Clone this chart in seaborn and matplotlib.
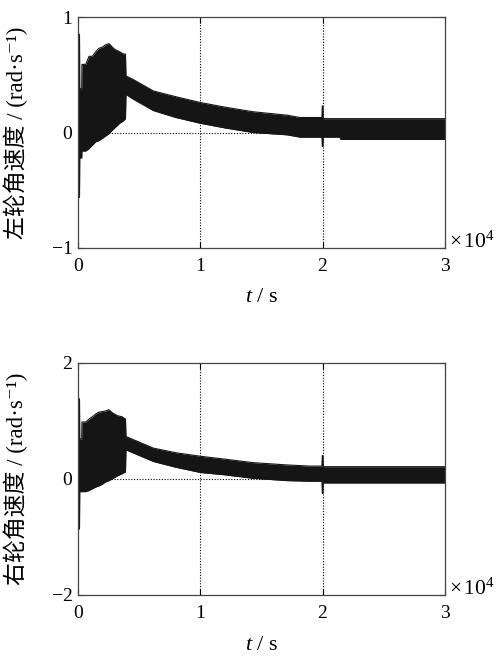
import matplotlib
matplotlib.use("Agg")
import matplotlib.pyplot as plt
import seaborn as sns
import pandas as pd

# ---- data (time in units of 1e4 s) ----
t_left = [0.000, 0.012, 0.014, 0.030, 0.032, 0.063, 0.090, 0.117, 0.145, 0.172,
          0.200, 0.226, 0.253, 0.280, 0.300, 0.340, 0.370, 0.388, 0.392, 0.450,
          0.616, 0.800, 1.000, 1.200, 1.430, 1.710, 1.815, 1.995, 1.998, 2.002,
          2.005, 2.140, 2.150, 3.000]
left_upper = [0.85, 0.85, 0.38, 0.38, 0.59, 0.59, 0.66, 0.66, 0.70, 0.73,
              0.74, 0.76, 0.77, 0.74, 0.72, 0.70, 0.68, 0.68, 0.49, 0.46,
              0.36, 0.31, 0.26, 0.22, 0.18, 0.15, 0.13, 0.13, 0.23, 0.23,
              0.12, 0.12, 0.12, 0.12]
left_lower = [-0.56, -0.56, -0.22, -0.22, -0.16, -0.16, -0.14, -0.11, -0.08, -0.07,
              -0.05, -0.03, -0.01, 0.02, 0.04, 0.08, 0.10, 0.12, 0.33, 0.29,
              0.19, 0.13, 0.08, 0.04, 0.00, -0.02, -0.04, -0.04, -0.12, -0.12,
              -0.04, -0.04, -0.06, -0.06]

t_right = [0.000, 0.012, 0.014, 0.030, 0.032, 0.063, 0.090, 0.117, 0.145, 0.172,
           0.200, 0.226, 0.253, 0.280, 0.320, 0.360, 0.388, 0.392, 0.616, 0.800,
           1.000, 1.200, 1.430, 1.710, 1.900, 1.995, 1.998, 2.002, 2.005, 3.000]
right_upper = [1.38, 1.38, 0.69, 0.69, 0.98, 0.98, 1.03, 1.07, 1.12, 1.15,
               1.16, 1.17, 1.19, 1.14, 1.09, 1.07, 1.03, 0.73, 0.53, 0.45,
               0.39, 0.34, 0.28, 0.24, 0.22, 0.22, 0.40, 0.40, 0.21, 0.21]
right_lower = [-0.86, -0.86, -0.22, -0.22, -0.22, -0.22, -0.20, -0.17, -0.14, -0.12,
               -0.09, -0.05, -0.03, 0.00, 0.05, 0.09, 0.12, 0.50, 0.30, 0.20,
               0.11, 0.07, 0.01, -0.03, -0.04, -0.04, -0.25, -0.25, -0.07, -0.07]

x_ticks = [0, 1, 2, 3]
top_yticks = [-1, 0, 1]
bot_yticks = [-2, 0, 2]
top_ylabel = "左轮角速度 / (rad·s⁻¹)"
bot_ylabel = "右轮角速度 / (rad·s⁻¹)"
x_label = "$t$ / s"
x_mult = r"$\times\,10^4$"

sns.set_theme(style="white")
plt.rcParams["font.family"] = ["Liberation Serif", "Noto Sans CJK SC", "DejaVu Serif"]
plt.rcParams["mathtext.fontset"] = "custom"
plt.rcParams["mathtext.rm"] = "Liberation Serif"
plt.rcParams["mathtext.it"] = "Liberation Serif:italic"
plt.rcParams["axes.unicode_minus"] = True

fig = plt.figure(figsize=(4.97, 6.56), dpi=100)
ax1 = fig.add_axes([0.157, 0.622, 0.738, 0.352])
ax2 = fig.add_axes([0.157, 0.093, 0.738, 0.354])

def draw(ax, t, up, lo, yticks, ylabel):
    df = pd.DataFrame({"t": t, "up": up, "lo": lo})
    ax.fill_between(df["t"], df["lo"], df["up"], color="#151515", lw=0)
    sns.lineplot(data=df, x="t", y="up", ax=ax, color="#151515", lw=0.8)
    sns.lineplot(data=df, x="t", y="lo", ax=ax, color="#151515", lw=0.8)
    ax.set_xlim(0, 3)
    ax.set_ylim(yticks[0], yticks[-1])
    ax.set_xticks(x_ticks)
    ax.set_yticks(yticks)
    ax.set_xticklabels([str(v) for v in x_ticks])
    ax.set_yticklabels([str(v).replace("-", "\u2212") for v in yticks])
    for v in x_ticks[1:-1]:
        ax.axvline(v, color="black", lw=0.8, ls=(0, (1, 1.5)), zorder=0)
    for v in yticks[1:-1]:
        ax.axhline(v, color="black", lw=0.8, ls=(0, (1, 1.5)), zorder=0)
    ax.tick_params(direction="in", length=4, width=0.8, top=True, right=True,
                   bottom=True, left=True, labelsize=14, colors="black")
    ax.tick_params(axis="x", pad=7)
    ax.tick_params(axis="y", pad=4)
    for s in ax.spines.values():
        s.set_color("#444444")
        s.set_linewidth(0.9)
    ax.set_ylabel(ylabel, fontsize=16.5, color="black")
    ax.yaxis.set_label_coords(-0.135, 0.5)
    ax.set_xlabel(x_label, fontsize=16, color="black", va="top")
    ax.xaxis.set_label_coords(0.5, -0.175)
    ax.text(1.012, 0.0, x_mult, transform=ax.transAxes, fontsize=15.5,
            ha="left", va="baseline", color="black")

draw(ax1, t_left, left_upper, left_lower, top_yticks, top_ylabel)
draw(ax2, t_right, right_upper, right_lower, bot_yticks, bot_ylabel)

fig.savefig("out.png", dpi=100)
